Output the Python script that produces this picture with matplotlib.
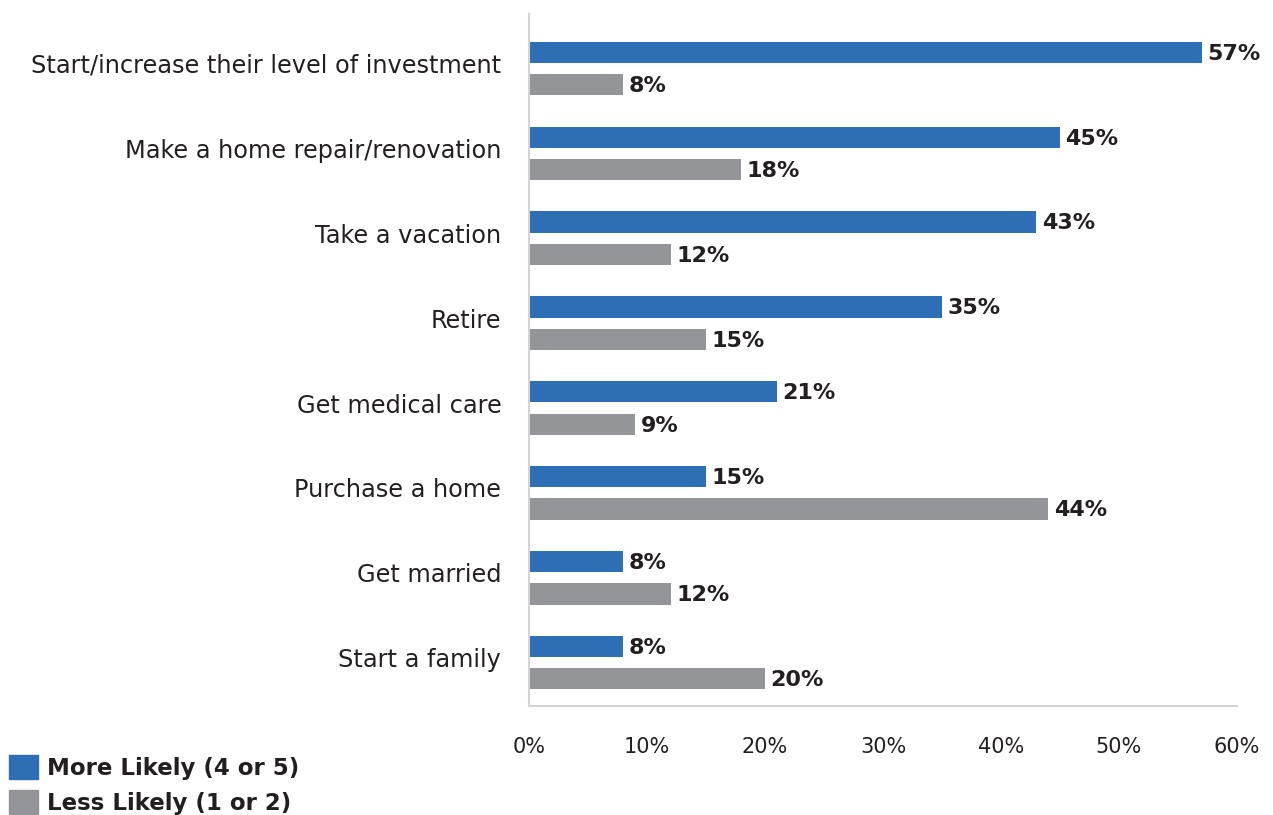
import numpy as np
import matplotlib.pyplot as plt
import matplotlib.transforms as mtransforms
from matplotlib.patches import Patch

plt.rcParams['font.family'] = ['DejaVu Sans']

# 데이터
categories = ['Start/increase their level of investment', 'Make a home repair/renovation',
              'Take a vacation', 'Retire', 'Get medical care', 'Purchase a home',
              'Get married', 'Start a family']
more_likely = [57, 45, 43, 35, 21, 15, 8, 8]
less_likely = [8, 18, 12, 15, 9, 44, 12, 20]
series_names = ['More Likely (4 or 5)', 'Less Likely (1 or 2)']
ticks = [0, 10, 20, 30, 40, 50, 60]

blue = '#2e6eb5'
gray = '#939598'
text_c = '#231f20'

fig = plt.figure(figsize=(12.73, 8.15), dpi=100)
ax = fig.add_axes([0.4156, 0.1337, 0.5561, 0.8491])

y = np.arange(len(categories))
h = 0.25
off = 0.19
b1 = ax.barh(y - off, more_likely, height=h, color=blue)
b2 = ax.barh(y + off, less_likely, height=h, color=gray)

for bars, vals in ((b1, more_likely), (b2, less_likely)):
    for b, v in zip(bars, vals):
        ax.annotate(f'{v}%', (b.get_width(), b.get_y() + b.get_height() / 2),
                    xytext=(4, -1), textcoords='offset points', va='center', ha='left',
                    fontsize=16, fontweight='bold', color=text_c)

ax.set_xlim(0, 60)
ax.set_ylim(len(categories) - 1 + 0.51, -0.64)
ax.set_xticks(ticks)
ax.set_xticklabels([f'{t}%' for t in ticks], fontsize=15, color=text_c)
ax.tick_params(axis='both', length=0)
ax.tick_params(axis='x', pad=22)
ax.set_yticks(y)
ax.set_yticklabels(categories, fontsize=17.3, color=text_c)
ax.tick_params(axis='y', pad=20)
# 라벨 살짝 위로
shift = mtransforms.ScaledTranslation(0, 5 / 100, fig.dpi_scale_trans)
for lab in ax.get_yticklabels():
    lab.set_transform(lab.get_transform() + shift)

for s in ('top', 'right'):
    ax.spines[s].set_visible(False)
for s in ('left', 'bottom'):
    ax.spines[s].set_color('#d4d4d4')
    ax.spines[s].set_linewidth(1.5)

handles = [Patch(color=blue), Patch(color=gray)]
leg = fig.legend(handles, series_names, loc='lower left', bbox_to_anchor=(9 / 1273, 0.0),
                 frameon=False, handlelength=1.25, handleheight=1.25, handletextpad=0.4,
                 labelspacing=0.45, borderpad=0, borderaxespad=0,
                 prop={'weight': 'bold', 'size': 16.5})
for t in leg.get_texts():
    t.set_color(text_c)

fig.savefig('out.png', dpi=100)
